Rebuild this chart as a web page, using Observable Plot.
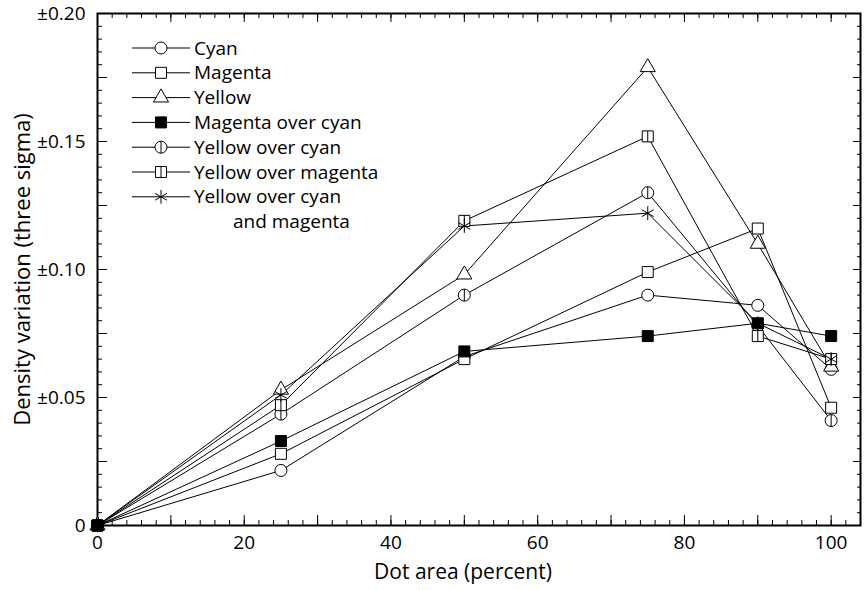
<!DOCTYPE html>
<html><head><meta charset="utf-8">
<script src="https://cdn.jsdelivr.net/npm/d3@7"></script>
<script src="https://cdn.jsdelivr.net/npm/@observablehq/plot@0.6"></script>
<style>body{margin:0;background:#fff} svg{display:block}</style>
</head><body><div id="chart"></div>
<script>
// ---- data ----
const dotArea = [0, 25, 50, 75, 90, 100];
const cyan = [0, 0.0215, 0.066, 0.090, 0.086, 0.061];
const magenta = [0, 0.028, 0.065, 0.099, 0.116, 0.046];
const yellow = [0, 0.053, 0.098, 0.179, 0.110, 0.062];
const magentaOverCyan = [0, 0.033, 0.068, 0.074, 0.079, 0.074];
const yellowOverCyan = [0, 0.0435, 0.090, 0.130, 0.078, 0.041];
const yellowOverMagenta = [0, 0.047, 0.119, 0.152, 0.074, 0.065];
const yellowOverCyanMagenta = [0, 0.051, 0.117, 0.122, 0.079, 0.065];
const seriesNames = ["Cyan", "Magenta", "Yellow", "Magenta over cyan", "Yellow over cyan", "Yellow over magenta", "Yellow over cyan and magenta"];
const seriesValues = [cyan, magenta, yellow, magentaOverCyan, yellowOverCyan, yellowOverMagenta, yellowOverCyanMagenta];
const legendLabels = ["Cyan", "Magenta", "Yellow", "Magenta over cyan", "Yellow over cyan", "Yellow over magenta", "Yellow over cyan"];
const legendContinuation = "and magenta";
const xTickLabels = [0, 20, 40, 60, 80, 100];
const xMidTicks = [0, 10, 20, 30, 40, 50, 60, 70, 80, 90, 100];
const xMinorTicks = d3.range(0, 105, 2);
const yTickLabels = [0, 0.05, 0.10, 0.15, 0.20];
const yMidTicks = d3.range(0, 0.2001, 0.025);
const yMinorTicks = d3.range(0, 0.2001, 0.005);

// ---- symbols ----
const circleBar = {draw(ctx, size){ const r = Math.sqrt(size/Math.PI); ctx.moveTo(r,0); ctx.arc(0,0,r,0,2*Math.PI); ctx.moveTo(0,-r); ctx.lineTo(0,r); }};
const squareBar = {draw(ctx, size){ const w = Math.sqrt(size)/2; ctx.moveTo(-w,-w); ctx.lineTo(w,-w); ctx.lineTo(w,w); ctx.lineTo(-w,w); ctx.closePath(); ctx.moveTo(0,-w); ctx.lineTo(0,w); }};
const styles = [
  {symbol: "circle", r: 6, fill: "white"},
  {symbol: "square", r: 6.2, fill: "white"},
  {symbol: "triangle", r: 5.6, fill: "white"},
  {symbol: "square", r: 6.2, fill: "black"},
  {symbol: circleBar, r: 6, fill: "white"},
  {symbol: squareBar, r: 6.2, fill: "white"},
  {symbol: "asterisk", r: 6.5, fill: "none"}
];
const drawOrder = [0, 1, 2, 4, 5, 6, 3];

const rows = [];
seriesNames.forEach((s, i) => dotArea.forEach((x, j) => rows.push({series: s, x, y: seriesValues[i][j]})));

const font = "Open Sans";
const chart = Plot.plot({
  width: 865, height: 590,
  marginLeft: 97, marginRight: 5, marginTop: 13, marginBottom: 65,
  style: {fontFamily: font, fontSize: "18px", background: "white", color: "black", overflow: "visible"},
  x: {domain: [0, 104]},
  y: {domain: [0, 0.2]},
  marks: [
    Plot.axisX(xMinorTicks, {anchor: "bottom", tickSize: -5, text: null, label: null}),
    Plot.axisX(xMidTicks, {anchor: "bottom", tickSize: -10, text: null, label: null}),
    Plot.axisX(xTickLabels, {anchor: "bottom", tickSize: 0, tickPadding: 10, tickFormat: d => String(d), label: null, fontSize: 19}),
    Plot.axisX(xMinorTicks, {anchor: "top", tickSize: -4, text: null, label: null}),
    Plot.axisX(xMidTicks, {anchor: "top", tickSize: -8, text: null, label: null}),
    Plot.axisY(yMinorTicks, {anchor: "left", tickSize: -5, text: null, label: null}),
    Plot.axisY(yMidTicks, {anchor: "left", tickSize: -10, text: null, label: null}),
    Plot.axisY(yTickLabels, {anchor: "left", tickSize: 0, tickPadding: 12, tickFormat: d => d === 0 ? "0" : "±" + d.toFixed(2), label: null, fontSize: 19}),
    Plot.axisY(yMinorTicks, {anchor: "right", tickSize: -4, text: null, label: null}),
    Plot.axisY(yMidTicks, {anchor: "right", tickSize: -8, text: null, label: null}),
    Plot.frame({strokeWidth: 2}),
    Plot.text(["Dot area (percent)"], {frameAnchor: "bottom", dy: 53, dx: -16, textAnchor: "middle", text: d => d, fontSize: 21}),
    Plot.text(["Density variation (three sigma)"], {frameAnchor: "left", dx: -75, textAnchor: "middle", rotate: -90, text: d => d, fontSize: 22}),
    Plot.line(rows, {x: "x", y: "y", z: "series", stroke: "black", strokeWidth: 1}),
    ...drawOrder.map(i => Plot.dot(rows.filter(d => d.series === seriesNames[i]), {x: "x", y: "y", symbol: styles[i].symbol, r: styles[i].r, fill: styles[i].fill, stroke: "black", strokeWidth: 1}))
  ]
});
document.getElementById("chart").appendChild(chart);

// ---- legend ----
const svg = d3.select(chart);
const lg = svg.append("g").attr("font-family", font).attr("font-size", 19).attr("text-anchor", "start");
const symMap = {circle: d3.symbolCircle, square: d3.symbolSquare, triangle: d3.symbolTriangle, asterisk: d3.symbolAsterisk};
legendLabels.forEach((t, i) => {
  const y = 48 + i * 24.8;
  const g = lg.append("g").attr("transform", `translate(0,${y})`);
  g.append("line").attr("x1", 132).attr("x2", 190).attr("stroke", "black");
  const st = styles[i];
  const type = typeof st.symbol === "string" ? symMap[st.symbol] : st.symbol;
  g.append("path").attr("transform", "translate(161,0)")
    .attr("d", d3.symbol(type, st.r * st.r * Math.PI)())
    .attr("fill", st.fill).attr("stroke", "black");
  g.append("text").attr("x", 194).attr("dy", "0.35em").text(t);
});
lg.append("text").attr("x", 233).attr("y", 48 + 7 * 24.8).attr("dy", "0.35em").text(legendContinuation);
</script>
</body></html>
